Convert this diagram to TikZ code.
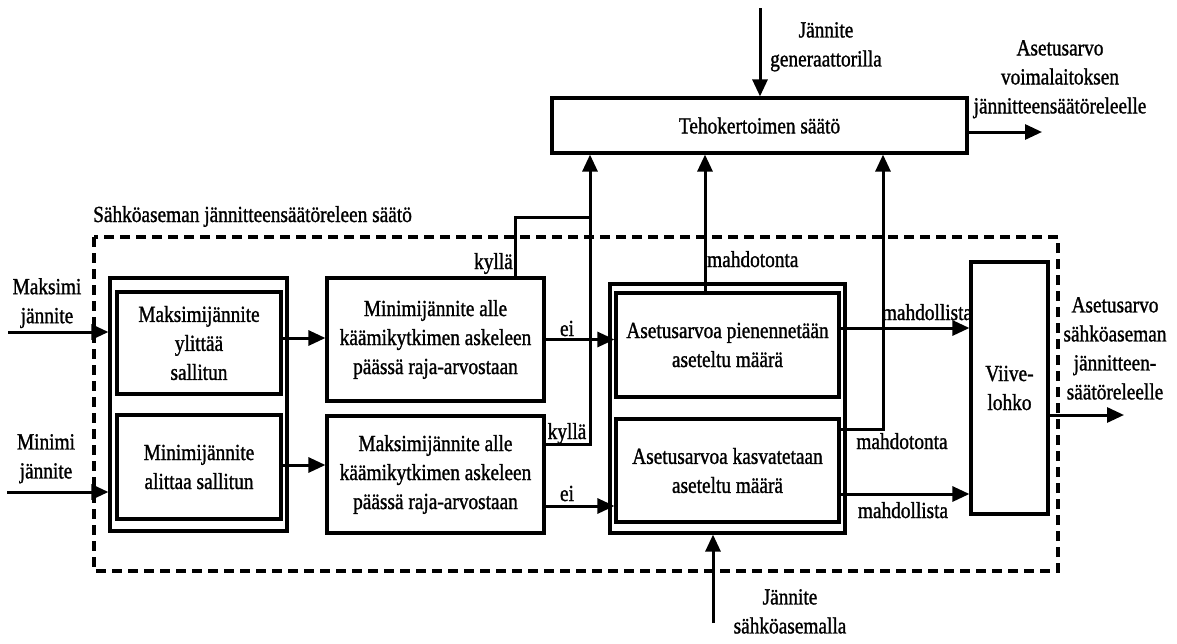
\documentclass[tikz,border=0pt]{standalone}
\usepackage{fontspec}
\setmainfont{Liberation Serif}[FakeStretch=0.84,FakeBold=1.2]
\usetikzlibrary{arrows.meta}

\begin{document}
\begin{tikzpicture}[x=1pt,y=-1pt,
  font=\fontsize{23}{29}\selectfont,
  laatikko/.style={draw, line width=3.2pt, align=center, inner sep=0pt},
  nuoli/.style={line width=3pt, -{Triangle[length=17pt,width=15pt]}},
  viiva/.style={line width=3pt},
  teksti/.style={align=center, inner sep=0pt}]

\useasboundingbox (0,0) rectangle (1177,643);

\draw[line width=3.2pt, dash pattern=on 10pt off 6pt] (94,237) rectangle (1058,571);
\node[teksti, anchor=base west] (otsikko) at (93,222) {Sähköaseman jännitteensäätöreleen säätö};

\node[laatikko, minimum width=415pt, minimum height=55pt] (teho) at (759.5,125.5) {Tehokertoimen säätö};
\node[laatikko, minimum width=177pt, minimum height=253pt] (ulkoMax) at (198.5,404.5) {};
\node[laatikko, minimum width=164pt, minimum height=102pt] (maxRaja) at (199,343) {Maksimijännite\\ylittää\\sallitun};
\node[laatikko, minimum width=164pt, minimum height=104pt] (minRaja) at (199,467) {Minimijännite\\alittaa sallitun};
\node[laatikko, minimum width=217pt, minimum height=123pt] (alleMin) at (435.5,339.5) {Minimijännite alle\\käämikytkimen askeleen\\päässä raja-arvostaan};
\node[laatikko, minimum width=217pt, minimum height=117pt] (alleMax) at (435.5,474.5) {Maksimijännite alle\\käämikytkimen askeleen\\päässä raja-arvostaan};
\node[laatikko, minimum width=235pt, minimum height=249pt] (ulkoAset) at (727.5,408.5) {};
\node[laatikko, minimum width=223pt, minimum height=104pt] (pienennys) at (727.5,345) {Asetusarvoa pienennetään\\aseteltu määrä};
\node[laatikko, minimum width=223pt, minimum height=103pt] (kasvatus) at (727.5,470.5) {Asetusarvoa kasvatetaan\\aseteltu määrä};
\node[laatikko, minimum width=77pt, minimum height=252pt] (viive) at (1009.5,388) {Viive-\\lohko};

\coordinate (maksIn) at (8,332);
\coordinate (minIn) at (7,492);
\coordinate (genIn) at (760,8);
\coordinate (asemaIn) at (713,623);
\coordinate (tehoOut) at (1042,0);
\coordinate (viiveOut) at (1124,0);
\coordinate (haara) at (515,0);
\coordinate (nousu) at (590,217);
\coordinate (nousuB) at (705,0);
\coordinate (nousuC) at (883,0);

\draw[nuoli] (maksIn) -- (maksIn -| ulkoMax.west);
\draw[nuoli] (minIn) -- (minIn -| ulkoMax.west);
\draw[nuoli] ([yshift=5pt]maxRaja.east) -- ([yshift=5pt]maxRaja.east -| alleMin.west);
\draw[nuoli] ([yshift=2pt]minRaja.east) -- ([yshift=2pt]minRaja.east -| alleMax.west);
\draw[nuoli] (alleMin.east) -- (alleMin.east -| pienennys.west);
\draw[nuoli] ([yshift=-31.5pt]alleMax.east) -- ([yshift=-31.5pt]alleMax.east -| kasvatus.west);
\draw[viiva] (haara |- alleMin.north) |- (nousu);
\draw[nuoli] ([yshift=30.5pt]alleMax.east) -| (nousu |- teho.south);
\draw[nuoli] (nousuB |- pienennys.north) -- (nousuB |- teho.south);
\draw[nuoli] ([yshift=41.5pt]kasvatus.east) -| (nousuC |- teho.south);
\draw[nuoli] ([yshift=17pt]pienennys.east) -- ([yshift=17pt]pienennys.east -| viive.west);
\draw[nuoli] ([yshift=-23.5pt]kasvatus.east) -- ([yshift=-23.5pt]kasvatus.east -| viive.west);
\draw[nuoli] ([yshift=-27pt]viive.east) -- ([yshift=-27pt]viive.east -| viiveOut);
\draw[nuoli] ([yshift=-6.5pt]teho.east) -- ([yshift=-6.5pt]teho.east -| tehoOut);
\draw[nuoli] (genIn) -- (genIn |- teho.north);
\draw[nuoli] (asemaIn) -- (asemaIn |- ulkoAset.south);

\node[teksti, anchor=north] (maksLbl) at (47,278) {Maksimi\\jännite};
\node[teksti, anchor=north] (minLbl) at (46,434) {Minimi\\jännite};
\node[teksti, anchor=north] (genLbl) at (826,22) {Jännite\\generaattorilla};
\node[teksti, anchor=north] (voimaLbl) at (1060,40) {Asetusarvo\\voimalaitoksen\\jännitteensäätöreleelle};
\node[teksti, anchor=north] (asemaOutLbl) at (1115,297) {Asetusarvo\\sähköaseman\\jännitteen-\\säätöreleelle};
\node[teksti, anchor=north] (asemaLbl) at (790,589) {Jännite\\sähköasemalla};
\node[teksti, anchor=base east] (kylla1) at (513,269) {kyllä};
\node[teksti, anchor=base] (kylla2) at (567,439) {kyllä};
\node[teksti, anchor=base] (ei1) at (567,336) {ei};
\node[teksti, anchor=base] (ei2) at (567,501) {ei};
\node[teksti, anchor=base west] (mahdoton1) at (707,267) {mahdotonta};
\node[teksti, anchor=base] (mahdoton2) at (902,449) {mahdotonta};
\node[teksti, anchor=base] (mahdollinen1) at (927,320) {mahdollista};
\node[teksti, anchor=base] (mahdollinen2) at (903,518) {mahdollista};

\end{tikzpicture}
\end{document}
